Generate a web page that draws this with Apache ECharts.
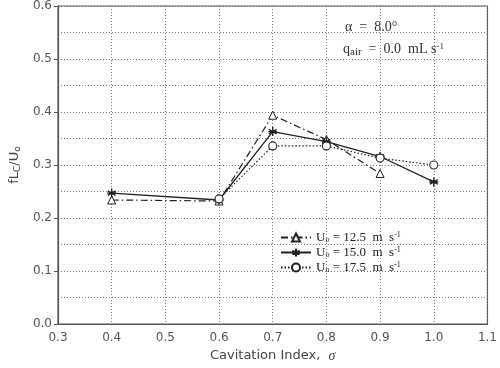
<!DOCTYPE html>
<html><head><meta charset="utf-8">
<script src="https://cdn.jsdelivr.net/npm/echarts@6/dist/echarts.min.js"></script>
<style>html,body{margin:0;padding:0;background:#fff}#c{width:500px;height:368px}</style>
</head><body><div id="c"></div>
<script>
const sigma12 = [0.4, 0.6, 0.7, 0.8, 0.9];
const f12 = [0.234, 0.232, 0.394, 0.348, 0.284];
const sigma15 = [0.4, 0.6, 0.7, 0.8, 0.9, 1.0];
const f15 = [0.247, 0.234, 0.363, 0.344, 0.316, 0.268];
const sigma17 = [0.6, 0.7, 0.8, 0.9, 1.0];
const f17 = [0.236, 0.336, 0.336, 0.313, 0.300];
const seriesNames = ['12.5', '15.0', '17.5'];

const starPath = 'path://M0,-10L0,10M-8.66,-5L8.66,5M-8.66,5L8.66,-5M-10,0L10,0';
function pts(xs, ys){ return xs.map((x,i)=>[x, ys[i]]); }
const serif = '"Liberation Serif","DejaVu Serif",serif';
const chart = echarts.init(document.getElementById('c'));
chart.setOption({
  animation:false,
  backgroundColor:'#fff',
  grid:{left:52,right:8,top:6,bottom:44,show:true,borderColor:'#555',borderWidth:1.2,backgroundColor:'transparent'},
  xAxis:{type:'value',min:0.3,max:1.1,interval:0.1,
    name:'Cavitation Index,  {s|σ}',nameLocation:'middle',nameGap:25,
    nameTextStyle:{color:'#444',fontSize:13,fontFamily:'"DejaVu Sans",sans-serif',rich:{s:{fontStyle:'italic',fontFamily:serif,fontSize:14,color:'#444'}}},
    axisLine:{lineStyle:{color:'#555',width:1.2}},
    axisTick:{show:false},
    axisLabel:{color:'#555',fontSize:12,fontFamily:'"DejaVu Sans",sans-serif',formatter:v=>v.toFixed(1),margin:8},
    splitLine:{show:true,lineStyle:{color:'#777',type:[1,2],width:1}}
  },
  yAxis:{type:'value',min:0,max:0.6,interval:0.1,
    name:'fL{c|C}/U{c|o}',nameLocation:'middle',nameGap:36,nameRotate:90,
    nameTextStyle:{color:'#444',fontSize:13,fontFamily:'"DejaVu Sans",sans-serif',rich:{c:{fontSize:9,verticalAlign:'bottom',color:'#444',padding:[6,0,0,0]}}},
    axisLine:{show:true,lineStyle:{color:'#555',width:1.2}},
    axisTick:{show:true,length:4,inside:false,lineStyle:{color:'#555'}},
    axisLabel:{color:'#555',fontSize:12,fontFamily:'"DejaVu Sans",sans-serif',formatter:v=>v.toFixed(1),margin:6},
    splitLine:{show:true,lineStyle:{color:'#777',type:[1,2],width:1}},
    minorTick:{show:false,splitNumber:2},
    minorSplitLine:{show:true,lineStyle:{color:'#777',type:[1,2],width:1}}
  },
  legend:{
    orient:'vertical',left:275,top:226,itemGap:2,itemWidth:30,itemHeight:10,
    data:seriesNames,
    formatter:n=>'U{o|o} = '+n+'  m  s{sup|-1}',
    textStyle:{fontFamily:serif,fontSize:13,color:'#222',
      rich:{o:{fontSize:8,verticalAlign:'bottom',fontFamily:serif,padding:[5,0,0,0]},sup:{fontSize:8,verticalAlign:'top',fontFamily:serif,padding:[0,0,5,0]}}}
  },
  graphic:[
    {type:'text',left:345,top:20,style:{text:'α  =  8.0°',font:'14px '+serif,fill:'#333'}},
    {type:'text',left:343,top:42,style:{rich:{n:{font:'14px '+serif,fill:'#333'},s:{font:'11px '+serif,fill:'#333',verticalAlign:'bottom',padding:[6,0,0,0]},p:{font:'9px '+serif,fill:'#333',padding:[0,0,6,0]}},
      text:'{n|q}{s|air}{n|  =  0.0  mL s}{p|-1}'}}
  ],
  series:[
    {name:'12.5',type:'line',data:pts(sigma12,f12),symbol:'triangle',symbolSize:8,
      itemStyle:{color:'#fff',borderColor:'#222',borderWidth:1},
      lineStyle:{color:'#222',width:1.2,type:[7,3,1.5,3]}},
    {name:'15.0',type:'line',data:pts(sigma15,f15),symbol:starPath,symbolSize:9,
      itemStyle:{color:'#222',borderColor:'#222',borderWidth:1.4},
      lineStyle:{color:'#222',width:1.3,type:'solid'}},
    {name:'17.5',type:'line',data:pts(sigma17,f17),symbol:'circle',symbolSize:8,
      itemStyle:{color:'#fff',borderColor:'#222',borderWidth:1.1},
      lineStyle:{color:'#222',width:1.2,type:[1.5,2]}}
  ]
});
</script></body></html>
